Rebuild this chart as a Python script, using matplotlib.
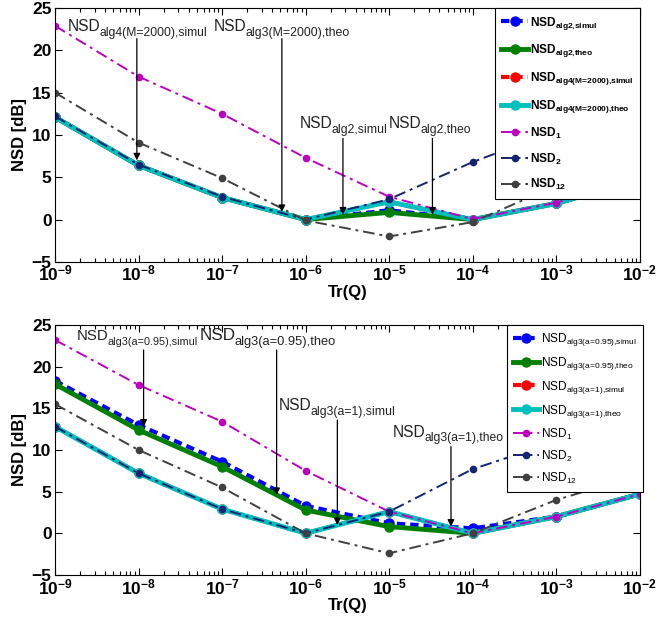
import matplotlib
matplotlib.use("Agg")
import matplotlib.pyplot as plt
import numpy as np
from matplotlib.ticker import LogLocator, NullFormatter, FixedLocator

plt.rcParams['font.family'] = ['Liberation Sans', 'DejaVu Sans']
plt.rcParams['mathtext.fontset'] = 'custom'
plt.rcParams['mathtext.rm'] = 'Liberation Sans'
plt.rcParams['mathtext.bf'] = 'Liberation Sans:bold'
plt.rcParams['mathtext.it'] = 'Liberation Sans:italic'
plt.rcParams['mathtext.default'] = 'regular'

trq = [1e-9, 1e-8, 1e-7, 1e-6, 1e-5, 1e-4, 1e-3, 1e-2]

# Top panel
top_alg2_simul = [12.1, 6.4, 2.6, 0.0, 1.1, 0.0, 1.9, 4.8]
top_alg2_theo = [12.1, 6.4, 2.6, 0.0, 0.85, 0.0, 1.9, 4.8]
top_alg4_simul = [12.1, 6.4, 2.6, 0.0, 2.1, 0.0, 1.9, 4.8]
top_alg4_theo = [12.1, 6.4, 2.6, 0.0, 2.1, 0.0, 1.9, 4.8]
top_nsd1 = [22.9, 16.9, 12.5, 7.3, 2.7, 0.05, 2.0, 4.8]
top_nsd2 = [12.2, 6.5, 2.7, 0.0, 2.4, 6.8, 10.5, 14.3]
top_nsd12 = [15.0, 9.1, 4.9, -0.1, -2.0, -0.3, 4.0, 7.0]

# Bottom panel
bot_a095_simul = [18.3, 13.0, 8.6, 3.3, 1.2, 0.6, 2.0, 4.7]
bot_a095_theo = [17.9, 12.4, 8.0, 2.8, 0.8, 0.0, 2.0, 4.7]
bot_a1_simul = [12.8, 7.2, 2.9, 0.0, 2.6, 0.0, 2.0, 4.7]
bot_a1_theo = [12.8, 7.2, 2.9, 0.0, 2.6, 0.0, 2.0, 4.7]
bot_nsd1 = [23.2, 17.8, 13.4, 7.5, 2.6, 0.0, 2.0, 4.7]
bot_nsd2 = [12.8, 7.2, 2.9, 0.0, 2.6, 7.7, 11.0, 14.5]
bot_nsd12 = [15.5, 10.0, 5.5, 0.0, -2.4, 0.0, 4.0, 7.0]

top_labels = [r'NSD$_{alg2{,}simul}$', r'NSD$_{alg2{,}theo}$',
              r'NSD$_{alg4(M\!=\!2000){,}simul}$', r'NSD$_{alg4(M\!=\!2000){,}theo}$',
              r'NSD$_{1}$', r'NSD$_{2}$', r'NSD$_{12}$']
bot_labels = [r'NSD$_{alg3(a\!=\!0.95){,}simul}$', r'NSD$_{alg3(a\!=\!0.95){,}theo}$',
              r'NSD$_{alg3(a\!=\!1){,}simul}$', r'NSD$_{alg3(a\!=\!1){,}theo}$',
              r'NSD$_{1}$', r'NSD$_{2}$', r'NSD$_{12}$']

# annotations: (main, subscript, text_x, text_y, arrow_x, arrow_tail_y, arrow_head_y, main_size, sub_size)
top_notes = [
    ('NSD', 'alg4(M=2000),simul', 10**-8.844, 22.3, 10**-8.02, 21.4, 7.0, 11.2, 8.7),
    ('NSD', 'alg3(M=2000),theo', 10**-7.097, 22.3, 5.2e-7, 21.4, 0.9, 11.2, 8.9),
    ('NSD', 'alg2,simul', 10**-6.068, 10.8, 2.8e-6, 9.6, 0.6, 11.2, 8.8),
    ('NSD', 'alg2,theo', 10**-5.003, 10.8, 3.3e-5, 9.6, 0.6, 11.2, 8.8),
]
bot_notes = [
    ('NSD', 'alg3(a=0.95),simul', 10**-8.737, 23.2, 1.15e-8, 22.0, 12.8, 10.8, 7.8),
    ('NSD', 'alg3(a=0.95),theo', 10**-7.265, 23.2, 4.5e-7, 22.0, 4.6, 12.3, 9.3),
    ('NSD', 'alg3(a=1),simul', 10**-6.32, 14.8, 2.4e-6, 13.6, 1.0, 11.2, 8.8),
    ('NSD', 'alg3(a=1),theo', 10**-4.955, 11.6, 5.5e-5, 10.4, 0.8, 11.2, 8.7),
]

c_blue = (0.0, 0.0, 1.0)
c_green = (0.0, 0.5, 0.0)
c_red = (1.0, 0.0, 0.0)
c_cyan = (0.0, 0.75, 0.75)
c_mag = (0.75, 0.0, 0.75)
c_navy = (0.08, 0.14, 0.45)
c_gray = (0.25, 0.25, 0.25)

fig = plt.figure(figsize=(6.57, 6.22), dpi=100)
ax1 = fig.add_axes([0.0837, 0.579, 0.890, 0.408])
ax2 = fig.add_axes([0.0837, 0.0756, 0.890, 0.402])

dashdot = (0, (6, 2.5, 1.5, 2.5))


def draw(ax, series, labels, notes, bold_legend):
    s = series
    ax.plot(trq, s[0], color=c_blue, ls=(0, (2.0, 1.2)), lw=3, marker='o', ms=6.5, label=labels[0])
    ax.plot(trq, s[1], color=c_green, ls='-', lw=3.5, marker='o', ms=6.5, label=labels[1])
    ax.plot(trq, s[2], color=c_red, ls=(0, (2.0, 1.2)), lw=3, marker='o', ms=6.5, label=labels[2])
    ax.plot(trq, s[3], color=c_cyan, ls='-', lw=3.5, marker='o', ms=6.5, label=labels[3])
    ax.plot(trq, s[4], color=c_mag, ls=dashdot, lw=1.4, marker='o', ms=4.5, label=labels[4])
    ax.plot(trq, s[5], color=c_navy, ls=dashdot, lw=1.4, marker='o', ms=4.5, label=labels[5])
    ax.plot(trq, s[6], color=c_gray, ls=dashdot, lw=1.4, marker='o', ms=4.5, label=labels[6])
    ax.set_xscale('log')
    ax.set_xlim(1e-9, 1e-2)
    ax.set_ylim(-5, 25)
    ax.yaxis.set_major_locator(FixedLocator([-5, 0, 5, 10, 15, 20, 25]))
    ax.xaxis.set_major_locator(LogLocator(base=10, numticks=20))
    ax.xaxis.set_minor_locator(LogLocator(base=10, subs=np.arange(2, 10), numticks=20))
    ax.xaxis.set_minor_formatter(NullFormatter())
    ax.tick_params(which='both', direction='in', top=True, right=True, width=0.8)
    ax.tick_params(which='major', length=5, labelsize=12.5)
    ax.tick_params(which='minor', length=3)
    ax.tick_params(axis='x', which='major', pad=1.5)
    ax.tick_params(axis='y', which='major', pad=2.5)
    for lab in ax.get_xticklabels() + ax.get_yticklabels():
        lab.set_fontweight('bold')
    ax.set_xlabel('Tr(Q)', fontsize=12, fontweight='bold', labelpad=1)
    ax.set_ylabel('NSD [dB]', fontsize=12, fontweight='bold', labelpad=3)
    for sp in ax.spines.values():
        sp.set_linewidth(0.8)
    for (main, sub, tx, ty, axx, ay0, ay1, msz, ssz) in notes:
        t = ax.text(tx, ty, main, fontsize=msz, ha='left', va='baseline',
                    color='#222222', zorder=5)
        ax.annotate(sub, xy=(1, 0), xycoords=t, xytext=(-0.8, -1.2),
                    textcoords='offset points', fontsize=ssz, ha='left',
                    va='baseline', color='#222222', zorder=5)
        ax.annotate('', xy=(axx, ay1), xytext=(axx, ay0),
                    arrowprops=dict(arrowstyle='-|>', color='black', lw=0.9,
                                    mutation_scale=10, shrinkA=0, shrinkB=0), zorder=5)
    if bold_legend:
        leg = ax.legend(loc='upper right', borderaxespad=0.0, fontsize=8.6,
                        fancybox=False, framealpha=1, edgecolor='black',
                        labelspacing=0.9, handlelength=2.2,
                        handletextpad=0.15, borderpad=0.55)
        for tt in leg.get_texts():
            tt.set_fontweight('bold')
    else:
        leg = ax.legend(loc='upper right', bbox_to_anchor=(1.005, 1.0), borderaxespad=0.0,
                        fontsize=8.6, fancybox=False, framealpha=1, edgecolor='black',
                        labelspacing=0.58, handlelength=2.2,
                        handletextpad=0.15, borderpad=0.5)
    leg.get_frame().set_linewidth(0.8)
    leg.set_zorder(10)


draw(ax1, [top_alg2_simul, top_alg2_theo, top_alg4_simul, top_alg4_theo,
           top_nsd1, top_nsd2, top_nsd12], top_labels, top_notes, True)
draw(ax2, [bot_a095_simul, bot_a095_theo, bot_a1_simul, bot_a1_theo,
           bot_nsd1, bot_nsd2, bot_nsd12], bot_labels, bot_notes, False)

fig.savefig('out.png', dpi=100)
